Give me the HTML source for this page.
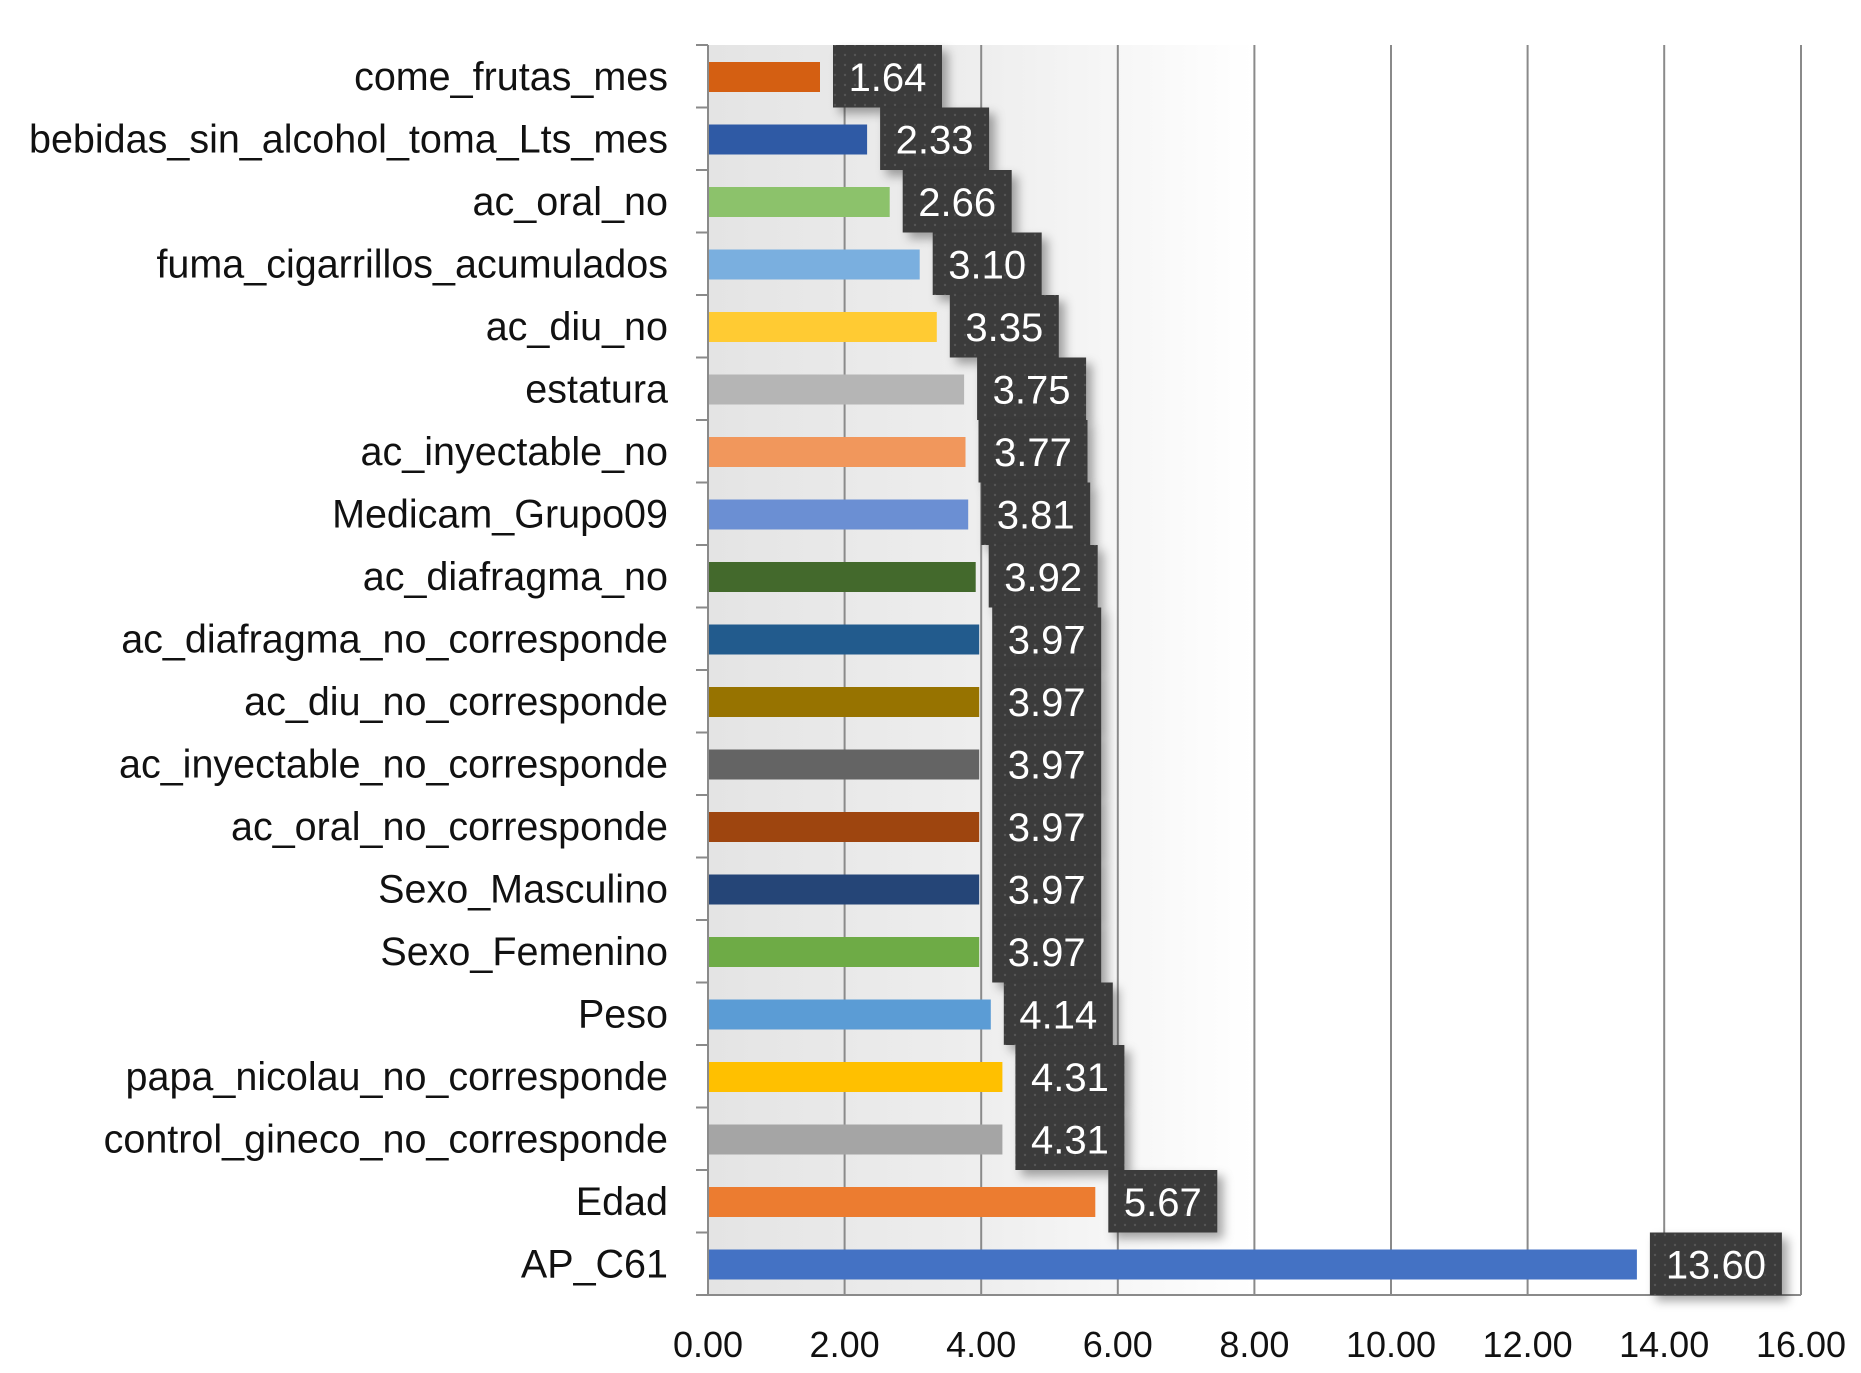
<!DOCTYPE html>
<html><head><style>
html,body{margin:0;padding:0;background:#fff;}
svg{display:block;}
text{font-family:"Liberation Sans",sans-serif;}
.c{font-size:39.5px;fill:#111;text-anchor:end;}
.v{font-size:40px;fill:#fff;text-anchor:middle;}
.a{font-size:36px;fill:#111;text-anchor:middle;}
.b{fill:url(#dots);filter:url(#sh);}
</style></head><body>
<svg width="1861" height="1373" viewBox="0 0 1861 1373" xmlns="http://www.w3.org/2000/svg">
<defs>
<linearGradient id="bg" x1="0" x2="1" y1="0" y2="0">
<stop offset="0" stop-color="#e4e4e4"/><stop offset="0.25" stop-color="#eeeeee"/><stop offset="0.5" stop-color="#ffffff"/>
</linearGradient>
<pattern id="dots" width="10" height="10" patternUnits="userSpaceOnUse">
<rect width="10" height="10" fill="#3b3b3b"/><circle cx="5" cy="5" r="1.2" fill="#555"/>
</pattern>
<filter id="sh" x="-20%" y="-20%" width="150%" height="150%"><feDropShadow dx="6" dy="6" stdDeviation="5" flood-color="#000" flood-opacity="0.35"/></filter>
</defs>
<rect x="708" y="45" width="1093" height="1250" fill="url(#bg)"/>
<g stroke="#8a8a8a" stroke-width="2">
<line x1="844.6" y1="45" x2="844.6" y2="1295"/>
<line x1="981.2" y1="45" x2="981.2" y2="1295"/>
<line x1="1117.8" y1="45" x2="1117.8" y2="1295"/>
<line x1="1254.4" y1="45" x2="1254.4" y2="1295"/>
<line x1="1391" y1="45" x2="1391" y2="1295"/>
<line x1="1527.6" y1="45" x2="1527.6" y2="1295"/>
<line x1="1664.2" y1="45" x2="1664.2" y2="1295"/>
<line x1="1801" y1="45" x2="1801" y2="1295"/>
<line x1="708" y1="45" x2="708" y2="1295"/>
<line x1="708" y1="1295" x2="1801" y2="1295"/>
<line x1="696" y1="45" x2="708" y2="45"/><line x1="696" y1="107.5" x2="708" y2="107.5"/><line x1="696" y1="170" x2="708" y2="170"/><line x1="696" y1="232.5" x2="708" y2="232.5"/><line x1="696" y1="295" x2="708" y2="295"/><line x1="696" y1="357.5" x2="708" y2="357.5"/><line x1="696" y1="420" x2="708" y2="420"/><line x1="696" y1="482.5" x2="708" y2="482.5"/><line x1="696" y1="545" x2="708" y2="545"/><line x1="696" y1="607.5" x2="708" y2="607.5"/><line x1="696" y1="670" x2="708" y2="670"/><line x1="696" y1="732.5" x2="708" y2="732.5"/><line x1="696" y1="795" x2="708" y2="795"/><line x1="696" y1="857.5" x2="708" y2="857.5"/><line x1="696" y1="920" x2="708" y2="920"/><line x1="696" y1="982.5" x2="708" y2="982.5"/><line x1="696" y1="1045" x2="708" y2="1045"/><line x1="696" y1="1107.5" x2="708" y2="1107.5"/><line x1="696" y1="1170" x2="708" y2="1170"/><line x1="696" y1="1232.5" x2="708" y2="1232.5"/><line x1="696" y1="1295" x2="708" y2="1295"/>
</g>

<rect x="709" y="62" width="111" height="30" fill="#d45f12"/>
<rect x="709" y="124.5" width="158.1" height="30" fill="#2f5aa5"/>
<rect x="709" y="187" width="180.7" height="30" fill="#8cc26b"/>
<rect x="709" y="249.5" width="210.7" height="30" fill="#7aafdf"/>
<rect x="709" y="312" width="227.8" height="30" fill="#ffcb33"/>
<rect x="709" y="374.5" width="255.1" height="30" fill="#b5b5b5"/>
<rect x="709" y="437" width="256.5" height="30" fill="#f1975c"/>
<rect x="709" y="499.5" width="259.2" height="30" fill="#6b8fd3"/>
<rect x="709" y="562" width="266.7" height="30" fill="#43692c"/>
<rect x="709" y="624.5" width="270.2" height="30" fill="#225b8d"/>
<rect x="709" y="687" width="270.2" height="30" fill="#977300"/>
<rect x="709" y="749.5" width="270.2" height="30" fill="#646464"/>
<rect x="709" y="812" width="270.2" height="30" fill="#9e450f"/>
<rect x="709" y="874.5" width="270.2" height="30" fill="#254577"/>
<rect x="709" y="937" width="270.2" height="30" fill="#6eab46"/>
<rect x="709" y="999.5" width="281.8" height="30" fill="#5b9cd5"/>
<rect x="709" y="1062" width="293.4" height="30" fill="#ffc000"/>
<rect x="709" y="1124.5" width="293.4" height="30" fill="#a5a5a5"/>
<rect x="709" y="1187" width="386.3" height="30" fill="#ec7c30"/>
<rect x="709" y="1249.5" width="927.9" height="30" fill="#4472c4"/>

<rect class="b" x="833" y="45" width="109" height="62.5"/>
<rect class="b" x="880.1" y="107.5" width="109" height="62.5"/>
<rect class="b" x="902.7" y="170" width="109" height="62.5"/>
<rect class="b" x="932.7" y="232.5" width="109" height="62.5"/>
<rect class="b" x="949.8" y="295" width="109" height="62.5"/>
<rect class="b" x="977.1" y="357.5" width="109" height="62.5"/>
<rect class="b" x="978.5" y="420" width="109" height="62.5"/>
<rect class="b" x="981.2" y="482.5" width="109" height="62.5"/>
<rect class="b" x="988.7" y="545" width="109" height="62.5"/>
<rect class="b" x="992.2" y="607.5" width="109" height="62.5"/>
<rect class="b" x="992.2" y="670" width="109" height="62.5"/>
<rect class="b" x="992.2" y="732.5" width="109" height="62.5"/>
<rect class="b" x="992.2" y="795" width="109" height="62.5"/>
<rect class="b" x="992.2" y="857.5" width="109" height="62.5"/>
<rect class="b" x="992.2" y="920" width="109" height="62.5"/>
<rect class="b" x="1003.8" y="982.5" width="109" height="62.5"/>
<rect class="b" x="1015.4" y="1045" width="109" height="62.5"/>
<rect class="b" x="1015.4" y="1107.5" width="109" height="62.5"/>
<rect class="b" x="1108.3" y="1170" width="109" height="62.5"/>
<rect class="b" x="1649.9" y="1232.5" width="132" height="62.5"/>

<text class="v" x="887.5" y="91">1.64</text>
<text class="v" x="934.6" y="153.5">2.33</text>
<text class="v" x="957.2" y="216">2.66</text>
<text class="v" x="987.2" y="278.5">3.10</text>
<text class="v" x="1004.3" y="341">3.35</text>
<text class="v" x="1031.6" y="403.5">3.75</text>
<text class="v" x="1033" y="466">3.77</text>
<text class="v" x="1035.7" y="528.5">3.81</text>
<text class="v" x="1043.2" y="591">3.92</text>
<text class="v" x="1046.7" y="653.5">3.97</text>
<text class="v" x="1046.7" y="716">3.97</text>
<text class="v" x="1046.7" y="778.5">3.97</text>
<text class="v" x="1046.7" y="841">3.97</text>
<text class="v" x="1046.7" y="903.5">3.97</text>
<text class="v" x="1046.7" y="966">3.97</text>
<text class="v" x="1058.3" y="1028.5">4.14</text>
<text class="v" x="1069.9" y="1091">4.31</text>
<text class="v" x="1069.9" y="1153.5">4.31</text>
<text class="v" x="1162.8" y="1216">5.67</text>
<text class="v" x="1715.9" y="1278.5">13.60</text>

<text class="c" x="668" y="90">come_frutas_mes</text>
<text class="c" x="668" y="152.5">bebidas_sin_alcohol_toma_Lts_mes</text>
<text class="c" x="668" y="215">ac_oral_no</text>
<text class="c" x="668" y="277.5">fuma_cigarrillos_acumulados</text>
<text class="c" x="668" y="340">ac_diu_no</text>
<text class="c" x="668" y="402.5">estatura</text>
<text class="c" x="668" y="465">ac_inyectable_no</text>
<text class="c" x="668" y="527.5">Medicam_Grupo09</text>
<text class="c" x="668" y="590">ac_diafragma_no</text>
<text class="c" x="668" y="652.5">ac_diafragma_no_corresponde</text>
<text class="c" x="668" y="715">ac_diu_no_corresponde</text>
<text class="c" x="668" y="777.5">ac_inyectable_no_corresponde</text>
<text class="c" x="668" y="840">ac_oral_no_corresponde</text>
<text class="c" x="668" y="902.5">Sexo_Masculino</text>
<text class="c" x="668" y="965">Sexo_Femenino</text>
<text class="c" x="668" y="1027.5">Peso</text>
<text class="c" x="668" y="1090">papa_nicolau_no_corresponde</text>
<text class="c" x="668" y="1152.5">control_gineco_no_corresponde</text>
<text class="c" x="668" y="1215">Edad</text>
<text class="c" x="668" y="1277.5">AP_C61</text>

<text class="a" x="708" y="1357">0.00</text>
<text class="a" x="844.6" y="1357">2.00</text>
<text class="a" x="981.2" y="1357">4.00</text>
<text class="a" x="1117.8" y="1357">6.00</text>
<text class="a" x="1254.4" y="1357">8.00</text>
<text class="a" x="1391" y="1357">10.00</text>
<text class="a" x="1527.6" y="1357">12.00</text>
<text class="a" x="1664.2" y="1357">14.00</text>
<text class="a" x="1801" y="1357">16.00</text>
</svg>
</body></html>
